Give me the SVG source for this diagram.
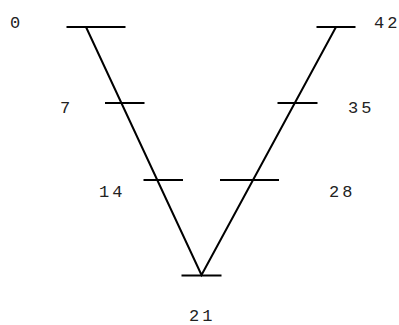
<svg xmlns="http://www.w3.org/2000/svg" width="399" height="325" viewBox="0 0 399 325">
<style>
.ln{stroke:#000;stroke-width:2;fill:none}
.lb{font-family:"Liberation Mono","Courier New",monospace;font-size:17px;letter-spacing:3px;fill:#222}
</style>
<rect width="399" height="325" fill="#fff"/>
<g id="connectors">
<path class="ln" d="M86,27 L201.5,275 L336,27"/>
</g>
<g id="t0"><line class="ln" x1="66.5" y1="27" x2="125.5" y2="27"/><text class="lb" x="10" y="28">0</text></g>
<g id="t7"><line class="ln" x1="105" y1="103" x2="144.5" y2="103"/><text class="lb" x="60" y="113">7</text></g>
<g id="t14"><line class="ln" x1="143.5" y1="180" x2="183" y2="180"/><text class="lb" x="99" y="197">14</text></g>
<g id="t21"><line class="ln" x1="181.5" y1="275.5" x2="221.5" y2="275.5"/><text class="lb" x="189" y="321">21</text></g>
<g id="t28"><line class="ln" x1="220" y1="180" x2="279" y2="180"/><text class="lb" x="329" y="197">28</text></g>
<g id="t35"><line class="ln" x1="277.5" y1="103" x2="317.5" y2="103"/><text class="lb" x="348" y="113">35</text></g>
<g id="t42"><line class="ln" x1="316.5" y1="27" x2="355.5" y2="27"/><text class="lb" x="374" y="28">42</text></g>
</svg>
